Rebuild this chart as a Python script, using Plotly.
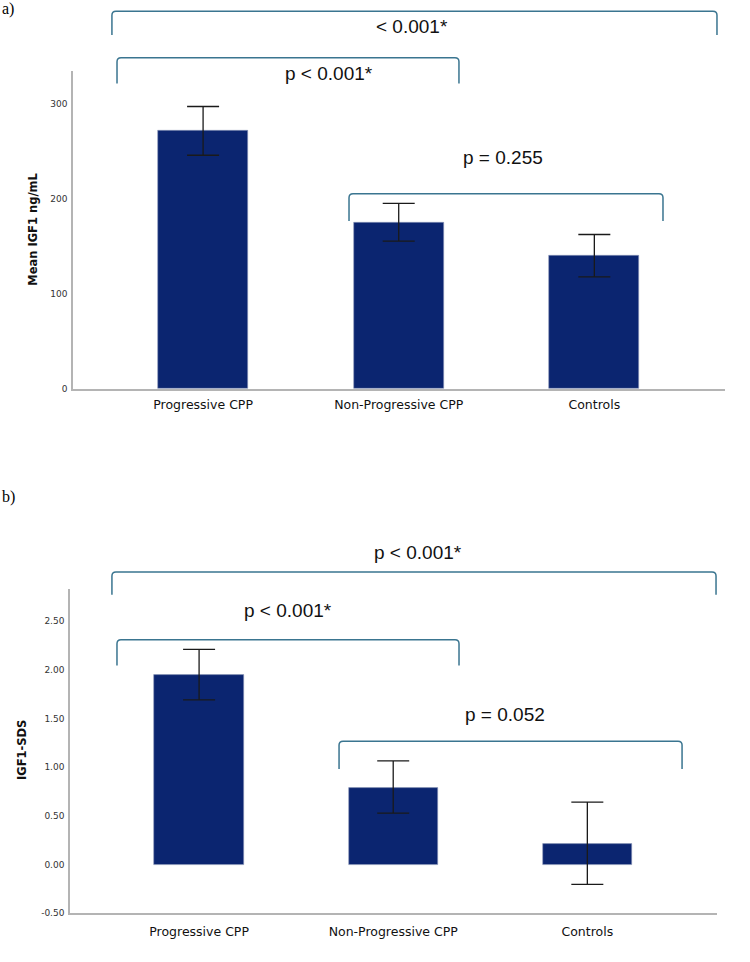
import plotly.graph_objects as go

# ---------------- data ----------------
categories = ["Progressive CPP", "Non-Progressive CPP", "Controls"]

igf1_mean = [271.5, 175.2, 139.7]
igf1_upper = [296.8, 195.1, 162.3]
igf1_lower = [245.6, 155.4, 117.8]

sds_mean = [1.95, 0.79, 0.21]
sds_upper = [2.21, 1.064, 0.64]
sds_lower = [1.69, 0.527, -0.204]

igf1_ticks = [0, 100, 200, 300]
igf1_ticklabels = ["0", "100", "200", "300"]
sds_ticks = [-0.5, 0.0, 0.5, 1.0, 1.5, 2.0, 2.5]
sds_ticklabels = ["-0.50", "0.00", "0.50", "1.00", "1.50", "2.00", "2.50"]

# brackets: (x_left, x_right, y_top, y_leg_bottom, label, label_x, label_y)
brackets_a = [
    (-0.466, 2.627, 397.0, 372.0, "< 0.001*", 1.068, 380.5),
    (-0.44, 1.308, 348.0, 321.0, "p < 0.001*", 0.644, 331.0),
    (0.746, 2.351, 205.0, 176.6, "p = 0.255", 1.533, 243.0),
]
brackets_b = [
    (-0.449, 2.663, 3.004, 2.769, "p < 0.001*", 1.128, 3.208),
    (-0.423, 1.339, 2.309, 2.043, "p < 0.001*", 0.458, 2.605),
    (0.721, 2.488, 1.267, 0.981, "p = 0.052", 1.576, 1.543),
]

# ---------------- layout geometry ----------------
W, H = 750, 962
BAR_COLOR = "#0b2570"
BRACKET_COLOR = "#3a7590"
AXIS_COLOR = "#b4b4b4"

x_range = [-0.665, 2.668]
panel_a = dict(px=(73, 725), py=(71, 391), yr=[0, 334.5])
panel_b = dict(px=(70, 717), py=(592, 918), yr=[-0.5, 2.83])


def dom_x(p):
    return [p["px"][0] / W, p["px"][1] / W]


def dom_y(p):
    return [1 - p["py"][1] / H, 1 - p["py"][0] / H]


def to_pixel(p, x, y):
    px0, px1 = p["px"]
    py0, py1 = p["py"]
    fx = (x - x_range[0]) / (x_range[1] - x_range[0])
    fy = (y - p["yr"][0]) / (p["yr"][1] - p["yr"][0])
    return px0 + fx * (px1 - px0), py1 - fy * (py1 - py0)


def pp(xpix, ypix):
    return xpix / W, 1 - ypix / H


fig = go.Figure()


def add_bars(means, upper, lower, xa, ya):
    fig.add_trace(go.Bar(
        x=list(range(len(categories))), y=means,
        marker=dict(color=BAR_COLOR, line=dict(color="#8d98b8", width=0.6)),
        width=0.46,
        error_y=dict(type="data", symmetric=False,
                     array=[u - m for u, m in zip(upper, means)],
                     arrayminus=[m - l for m, l in zip(means, lower)],
                     color="#1a1a1a", thickness=1.3, width=16),
        xaxis=xa, yaxis=ya, showlegend=False, hoverinfo="skip",
    ))


add_bars(igf1_mean, igf1_upper, igf1_lower, "x", "y")
add_bars(sds_mean, sds_upper, sds_lower, "x2", "y2")

shapes = []
annotations = []


def add_brackets(p, brackets):
    r = 4.0
    for xl, xr, yt, yb, label, lx, ly in brackets:
        xlp, ytp = to_pixel(p, xl, yt)
        xrp, ybp = to_pixel(p, xr, yb)
        s = pp(xlp, ybp)
        l1 = pp(xlp, ytp + r)
        c1 = pp(xlp, ytp)
        e1 = pp(xlp + r, ytp)
        l2 = pp(xrp - r, ytp)
        c2 = pp(xrp, ytp)
        e2 = pp(xrp, ytp + r)
        end = pp(xrp, ybp)
        path = (f"M {s[0]},{s[1]} L {l1[0]},{l1[1]} "
                f"Q {c1[0]},{c1[1]} {e1[0]},{e1[1]} L {l2[0]},{l2[1]} "
                f"Q {c2[0]},{c2[1]} {e2[0]},{e2[1]} L {end[0]},{end[1]}")
        shapes.append(dict(type="path", path=path, xref="paper", yref="paper",
                           line=dict(color=BRACKET_COLOR, width=1.5)))
        tx, ty = to_pixel(p, lx, ly)
        tpx, tpy = pp(tx, ty)
        annotations.append(dict(text=label, x=tpx, y=tpy, xref="paper", yref="paper",
                                showarrow=False, xanchor="center", yanchor="middle",
                                font=dict(family="Liberation Sans, Arial", size=19, color="#111")))


add_brackets(panel_a, brackets_a)
add_brackets(panel_b, brackets_b)

# panel letters
for txt, (xp, yp) in [("a)", (0, 9)), ("b)", (0, 500))]:
    ax_, ay_ = pp(xp, yp)
    annotations.append(dict(text=txt, x=ax_, y=ay_, xref="paper", yref="paper",
                            showarrow=False, xanchor="left", yanchor="middle",
                            font=dict(family="Liberation Serif, Times New Roman", size=16, color="#000")))

# y axis titles
for txt, (xp, yp) in [("Mean IGF1 ng/mL", (33, 231)), ("IGF1-SDS", (22, 754))]:
    ax_, ay_ = pp(xp, yp)
    annotations.append(dict(text=f"<b>{txt}</b>", x=ax_, y=ay_, xref="paper", yref="paper",
                            showarrow=False, textangle=-90, xanchor="center", yanchor="middle",
                            font=dict(family="DejaVu Sans", size=11.5, color="#111")))

xaxis_common = dict(range=x_range, tickmode="array", tickvals=list(range(len(categories))),
                    ticktext=categories, showline=True, linecolor=AXIS_COLOR, linewidth=1.5,
                    showgrid=False, zeroline=False, ticks="", fixedrange=True,
                    tickfont=dict(family="DejaVu Sans", size=12.5, color="#111"))
yaxis_common = dict(showline=True, linecolor=AXIS_COLOR, linewidth=1.5, showgrid=False,
                    zeroline=False, ticks="", ticklabelstandoff=2,
                    tickfont=dict(family="DejaVu Sans", size=9, color="#333"))

fig.update_layout(
    width=W, height=H, autosize=False,
    margin=dict(l=0, r=0, t=0, b=0),
    paper_bgcolor="white", plot_bgcolor="white",
    bargap=0,
    xaxis=dict(domain=dom_x(panel_a), anchor="y", ticklabelstandoff=3, **xaxis_common),
    yaxis=dict(domain=dom_y(panel_a), anchor="x", range=panel_a["yr"],
               tickvals=igf1_ticks, ticktext=igf1_ticklabels, **yaxis_common),
    xaxis2=dict(domain=dom_x(panel_b), anchor="y2", ticklabelstandoff=6, **xaxis_common),
    yaxis2=dict(domain=dom_y(panel_b), anchor="x2", range=panel_b["yr"],
                tickvals=sds_ticks, ticktext=sds_ticklabels, **yaxis_common),
    shapes=shapes,
    annotations=annotations,
)

fig.write_html("out.html")
